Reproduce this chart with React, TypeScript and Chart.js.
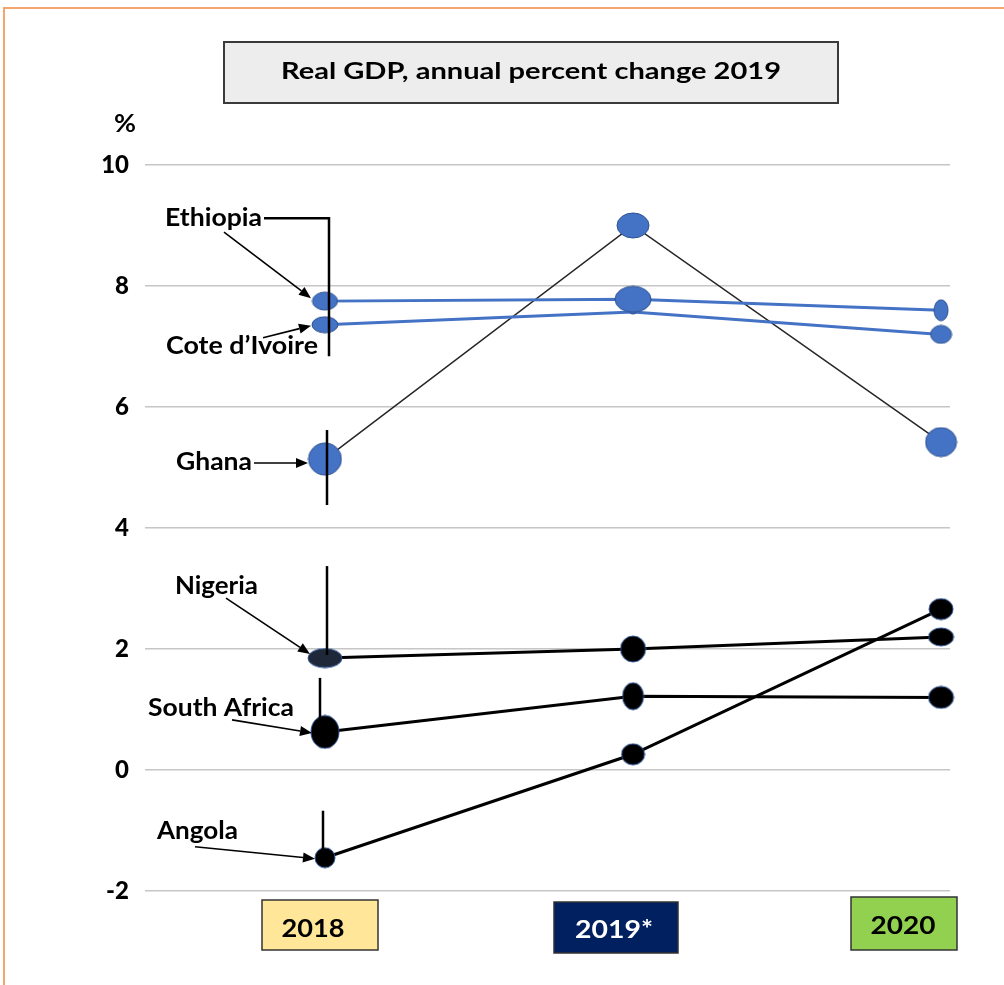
import React, { useEffect, useRef } from "react";
import { Chart, registerables } from "chart.js";

Chart.register(...registerables);

// ---- data ----
const years = [2018, 2019, 2020];
const yearLabels = ["2018", "2019*", "2020"];
const yTicks = [-2, 0, 2, 4, 6, 8, 10];
const countries = ["Ethiopia", "Cote d\u2019Ivoire", "Ghana", "Nigeria", "South Africa", "Angola"];
const ethiopia = [7.75, 7.78, 7.6];
const coteDIvoire = [7.36, 7.57, 7.2];
const ghana = [5.14, 9.0, 5.42];
const nigeria = [1.85, 2.0, 2.2];
const southAfrica = [0.63, 1.22, 1.2];
const angola = [-1.45, 0.26, 2.66];
const titleText = "Real GDP, annual percent change 2019";
const unitText = "%";

const FONT = "Lato, 'Open Sans', sans-serif";
const BLUE = "#4472C4";

function ellipseImage(rx: number, ry: number, fill: string, stroke: string) {
  const c = document.createElement("canvas");
  c.width = Math.ceil(rx * 2 + 2);
  c.height = Math.ceil(ry * 2 + 2);
  const ctx = c.getContext("2d")!;
  ctx.beginPath();
  ctx.ellipse(c.width / 2, c.height / 2, rx, ry, 0, 0, Math.PI * 2);
  ctx.fillStyle = fill;
  ctx.fill();
  ctx.lineWidth = 1;
  ctx.strokeStyle = stroke;
  ctx.stroke();
  return c;
}

function fitText(
  ctx: CanvasRenderingContext2D,
  text: string,
  x: number,
  y: number,
  size: number,
  targetW: number,
  align: CanvasTextAlign,
  color = "#000"
) {
  ctx.save();
  ctx.font = `bold ${size}px ${FONT}`;
  const w = ctx.measureText(text).width;
  const sx = targetW / w;
  ctx.translate(x, y);
  ctx.scale(sx, 1);
  ctx.textAlign = align;
  ctx.textBaseline = "middle";
  ctx.fillStyle = color;
  ctx.fillText(text, 0, 0);
  ctx.restore();
}

function arrow(ctx: CanvasRenderingContext2D, x1: number, y1: number, x2: number, y2: number) {
  const ang = Math.atan2(y2 - y1, x2 - x1);
  const len = 12;
  const bx = x2 - len * Math.cos(ang);
  const by = y2 - len * Math.sin(ang);
  ctx.beginPath();
  ctx.moveTo(x1, y1);
  ctx.lineTo(bx, by);
  ctx.lineWidth = 1.6;
  ctx.strokeStyle = "#000";
  ctx.stroke();
  ctx.beginPath();
  ctx.moveTo(x2, y2);
  ctx.lineTo(bx + 5 * Math.sin(ang), by - 5 * Math.cos(ang));
  ctx.lineTo(bx - 5 * Math.sin(ang), by + 5 * Math.cos(ang));
  ctx.closePath();
  ctx.fillStyle = "#000";
  ctx.fill();
}

const decorPlugin = {
  id: "decor",
  beforeDraw(chart: any) {
    const ctx: CanvasRenderingContext2D = chart.ctx;
    ctx.save();
    ctx.fillStyle = "#fff";
    ctx.fillRect(0, 0, chart.width, chart.height);
    // orange frame
    ctx.strokeStyle = "#F4A46C";
    ctx.lineWidth = 2;
    ctx.beginPath();
    ctx.moveTo(4, chart.height + 2);
    ctx.lineTo(4, 8);
    ctx.lineTo(chart.width + 2, 8);
    ctx.stroke();
    // title box
    ctx.fillStyle = "#EDEDED";
    ctx.fillRect(224, 42, 614, 61);
    ctx.strokeStyle = "#3a3a3a";
    ctx.lineWidth = 2;
    ctx.strokeRect(224, 42, 614, 61);
    fitText(ctx, titleText, 531, 72, 23, 500, "center");
    fitText(ctx, unitText, 125, 124, 24, 22, "center");
    ctx.restore();
  },
  afterDraw(chart: any) {
    const ctx: CanvasRenderingContext2D = chart.ctx;
    ctx.save();
    // year boxes
    const boxes = [
      { x: 262, y: 900, w: 116, h: 50, fill: "#FFE699", color: "#000", tx: 313, ty: 929, tw: 63 },
      { x: 554, y: 902, w: 124, h: 51, fill: "#002060", color: "#fff", tx: 614, ty: 930, tw: 78 },
      { x: 851, y: 897, w: 106, h: 53, fill: "#92D050", color: "#000", tx: 903, ty: 926, tw: 65 },
    ];
    boxes.forEach((b, i) => {
      ctx.fillStyle = b.fill;
      ctx.fillRect(b.x, b.y, b.w, b.h);
      ctx.strokeStyle = "#333";
      ctx.lineWidth = 1.5;
      ctx.strokeRect(b.x, b.y, b.w, b.h);
      fitText(ctx, yearLabels[i], b.tx, b.ty, 24, b.tw, "center", b.color);
    });

    // annotations at the first (2018) point of each series
    const pts = countries.map((_, i) => chart.getDatasetMeta(i).data[0]);

    const seg = (x1: number, y1: number, x2: number, y2: number, w = 2.5) => {
      ctx.beginPath();
      ctx.moveTo(x1, y1);
      ctx.lineTo(x2, y2);
      ctx.lineWidth = w;
      ctx.strokeStyle = "#000";
      ctx.stroke();
    };
    const label = (i: number, x: number, y: number, w: number) => fitText(ctx, countries[i], x, y, 25, w, "left");

    // Ethiopia
    let p = pts[0];
    let ty = p.y - 83;
    label(0, 165, ty, 97);
    ctx.beginPath();
    ctx.moveTo(264, ty);
    ctx.lineTo(329, ty);
    ctx.lineTo(329, p.y + 55);
    ctx.lineWidth = 2.5;
    ctx.strokeStyle = "#000";
    ctx.stroke();
    arrow(ctx, 224, p.y - 69, p.x - 14, p.y - 3);

    // Cote d'Ivoire
    p = pts[1];
    label(1, 166, p.y + 21, 152);
    arrow(ctx, 263, p.y + 13, p.x - 14, p.y + 1);

    // Ghana
    p = pts[2];
    label(2, 176, p.y + 3, 76);
    seg(p.x + 2, p.y - 29, p.x + 2, p.y + 46);
    arrow(ctx, 254, p.y + 4, p.x - 17, p.y + 4);

    // Nigeria
    p = pts[3];
    label(3, 175, p.y - 72, 83);
    seg(p.x + 2, p.y - 92, p.x + 2, p.y - 3);
    arrow(ctx, 226, p.y - 60, p.x - 15, p.y - 4);

    // South Africa
    p = pts[4];
    label(4, 148, p.y - 24, 146);
    seg(p.x - 5, p.y - 54, p.x - 5, p.y - 8);
    arrow(ctx, 232, p.y - 12, p.x - 13, p.y + 1);

    // Angola
    p = pts[5];
    label(5, 157, p.y - 27, 81);
    seg(p.x - 2, p.y - 47, p.x - 2, p.y - 3);
    arrow(ctx, 195, p.y - 11, p.x - 10, p.y + 1);

    ctx.restore();
  },
};

export default function App() {
  const ref = useRef<HTMLCanvasElement>(null);

  useEffect(() => {
    if (!ref.current) return;
    const blueStroke = "#2F528F";
    const darkStroke = "#2F5597";
    const mk = (sizes: number[][], fills: string[], stroke: string) =>
      sizes.map((s, i) => ellipseImage(s[0], s[1], fills[i], stroke));

    const series = [
      {
        values: ethiopia,
        color: BLUE,
        width: 3,
        styles: mk([[12.5, 9], [18, 13], [7, 10.5]], [BLUE, BLUE, BLUE], blueStroke),
      },
      {
        values: coteDIvoire,
        color: BLUE,
        width: 3,
        styles: mk([[13, 8], [3, 2], [10.5, 9]], [BLUE, BLUE, BLUE], blueStroke),
      },
      {
        values: ghana,
        color: "#262626",
        width: 1.5,
        styles: mk([[16.5, 16], [16, 12.5], [15.5, 14.5]], [BLUE, BLUE, BLUE], blueStroke),
      },
      {
        values: nigeria,
        color: "#000",
        width: 3,
        styles: mk([[17, 9.5], [12.5, 13], [12.5, 9]], ["#1F2838", "#000", "#000"], darkStroke),
      },
      {
        values: southAfrica,
        color: "#000",
        width: 3,
        styles: mk([[14, 16.5], [10.5, 13.5], [12.5, 11]], ["#000", "#000", "#000"], darkStroke),
      },
      {
        values: angola,
        color: "#000",
        width: 3,
        styles: mk([[10, 10], [11.5, 10.5], [12, 10.5]], ["#000", "#000", "#000"], darkStroke),
      },
    ];

    const chart = new Chart(ref.current, {
      type: "line",
      data: {
        datasets: series.map((s, i) => ({
          label: countries[i],
          data: s.values.map((v, j) => ({ x: years[j], y: v })),
          borderColor: s.color,
          borderWidth: s.width,
          pointStyle: s.styles as any,
          pointRadius: 10,
          tension: 0,
          fill: false,
          clip: false,
        })),
      },
      options: {
        responsive: false,
        animation: false,
        events: [],
        layout: { padding: { left: 0, right: 54, top: 165, bottom: 94 } },
        plugins: {
          legend: { display: false },
          tooltip: { enabled: false },
          title: { display: false },
        },
        scales: {
          x: { type: "linear", display: false, min: 2017.4156, max: 2020.0292 },
          y: {
            min: -2,
            max: 10,
            afterBuildTicks: (s: any) => {
              s.ticks = yTicks.map((v) => ({ value: v }));
            },
            afterFit: (s: any) => {
              s.width = 145;
            },
            grid: { color: "#C6C6C6", lineWidth: 1.5, drawTicks: false },
            border: { display: false },
            ticks: {
              padding: 16,
              color: "#000",
              font: { family: FONT, weight: "900", size: 24 },
            },
          },
        },
      },
      plugins: [decorPlugin],
    } as any);
    return () => chart.destroy();
  }, []);

  return (
    <div style={{ position: "absolute", left: 0, top: 0, width: 1004, height: 985 }}>
      <canvas ref={ref} width={1004} height={985} style={{ display: "block" }} />
    </div>
  );
}
